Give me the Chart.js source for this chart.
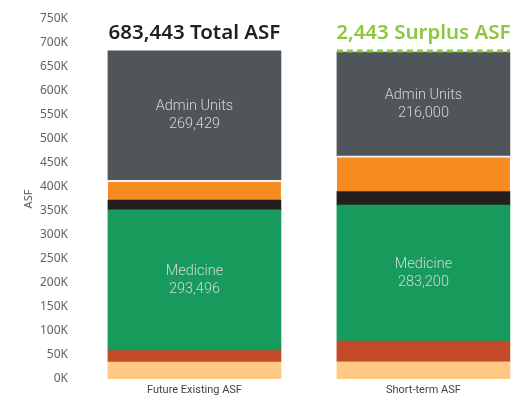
<!DOCTYPE html>
<html>
<head>
<meta charset="utf-8">
<script src="https://cdn.jsdelivr.net/npm/chart.js@4"></script>
<style>
  html, body { margin: 0; background: #fff; }
</style>
</head>
<body>
<canvas id="chart" width="521" height="401"></canvas>
<script>
// stacked space data, bottom segment first
const categories = ['Future Existing ASF', 'Short-term ASF'];
const positions = [0, 1];
const peachSpace = [35000, 36000];
const rustSpace = [24000, 43000];
const medicine = [293496, 283200];
const blackSpace = [20000, 28000];
const orangeSpace = [41518, 74800];
const adminUnits = [269429, 216000];
const yTicks = { min: 0, max: 750000, step: 50000 };

const fmt = n => n.toLocaleString('en-US');
const totals = positions.map((_, i) =>
  peachSpace[i] + rustSpace[i] + medicine[i] + blackSpace[i] + orangeSpace[i] + adminUnits[i]);
const surplus = totals[0] - totals[1];

function series(label, values, color, extra) {
  return Object.assign({
    label: label,
    data: positions.map((x, i) => ({ x: x, y: values[i] })),
    backgroundColor: color,
    borderWidth: 0,
    barThickness: 173
  }, extra || {});
}

// text inside segments, totals above bars, dashed surplus line
const annotate = {
  id: 'annotate',
  afterDatasetsDraw(chart) {
    const ctx = chart.ctx;
    const y = chart.scales.y;
    ctx.save();
    ctx.textAlign = 'center';
    ctx.textBaseline = 'middle';
    ctx.font = '300 14.5px Roboto';
    ctx.fillStyle = '#d6d6d6';
    [2, 5].forEach(di => {
      const ds = chart.data.datasets[di];
      chart.getDatasetMeta(di).data.forEach((bar, i) => {
        const mid = (bar.y + bar.base) / 2;
        ctx.fillText(ds.label, bar.x, mid - 9);
        ctx.fillText(fmt(ds.data[i].y), bar.x, mid + 9);
      });
    });

    const bars = chart.getDatasetMeta(5).data;
    const topY = y.getPixelForValue(totals[0]);
    ctx.textBaseline = 'alphabetic';
    ctx.font = '600 20.5px "Noto Sans"';
    ctx.fillStyle = '#231f20';
    ctx.fillText(fmt(totals[0]) + ' Total ASF', bars[0].x, topY - 12);
    ctx.fillStyle = '#8dc63f';
    ctx.fillText(fmt(surplus) + ' Surplus ASF', bars[1].x, topY - 12);

    const b = bars[1];
    ctx.strokeStyle = '#8dc63f';
    ctx.lineWidth = 3;
    ctx.setLineDash([6, 4]);
    ctx.beginPath();
    ctx.moveTo(b.x - b.width / 2, topY);
    ctx.lineTo(b.x + b.width / 2, topY);
    ctx.stroke();
    ctx.restore();
  }
};

new Chart(document.getElementById('chart'), {
  type: 'bar',
  data: {
    datasets: [
      series('Peach', peachSpace, '#fec985'),
      series('Rust', rustSpace, '#c24a26'),
      series('Medicine', medicine, '#179b5c'),
      series('Black', blackSpace, '#231f20'),
      series('Orange', orangeSpace, '#f68b1f', {
        borderWidth: { top: 2, left: 0, right: 0, bottom: 0 },
        borderColor: '#f4f4f4',
        borderSkipped: false
      }),
      series('Admin Units', adminUnits, '#4f5559')
    ]
  },
  options: {
    responsive: false,
    devicePixelRatio: 1,
    animation: false,
    layout: { padding: { top: 19, right: 6, left: 0, bottom: 0 } },
    plugins: {
      legend: { display: false },
      tooltip: { enabled: false }
    },
    scales: {
      x: {
        type: 'linear',
        stacked: true,
        offset: false,
        bounds: 'data',
        min: -0.478,
        max: 1.4,
        grid: { display: false, offset: false, drawTicks: false },
        border: { display: false },
        afterBuildTicks(scale) {
          scale.ticks = positions.map(v => ({ value: v }));
        },
        afterFit(scale) {
          scale.height = 22;
          scale.paddingLeft = 0;
          scale.paddingRight = 0;
        },
        ticks: {
          padding: 5,
          maxRotation: 0,
          autoSkip: false,
          color: '#444',
          font: { family: 'Roboto', size: 11 },
          callback: v => categories[v] ?? ''
        }
      },
      y: {
        stacked: true,
        min: yTicks.min,
        max: yTicks.max,
        grid: { display: false },
        border: { display: false },
        afterFit(scale) { scale.width = 85; },
        ticks: {
          stepSize: yTicks.step,
          padding: 9,
          color: '#666060',
          font: { family: 'Noto Sans', size: 12 },
          callback: v => (v / 1000) + 'K'
        },
        title: {
          display: true,
          text: 'ASF',
          color: '#5e5e5e',
          font: { family: 'Noto Sans', size: 11 },
          padding: { top: 22, bottom: 0 }
        }
      }
    }
  },
  plugins: [annotate]
});
</script>
</body>
</html>
